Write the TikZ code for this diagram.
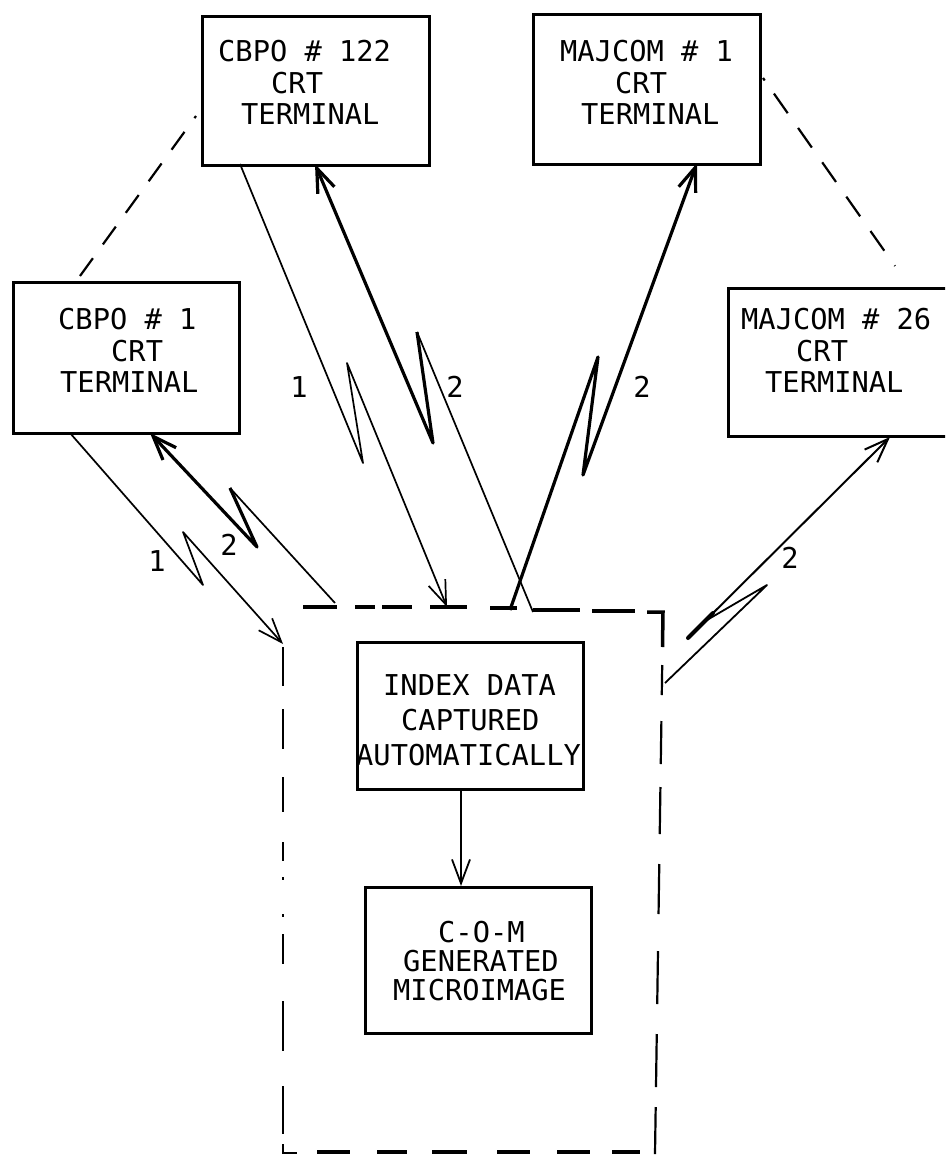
\documentclass[tikz,border=0pt]{standalone}
\usepackage{fontspec}
\newfontfamily\tfont{DejaVu Sans Mono}
\usetikzlibrary{arrows.meta}
\begin{document}
\begin{tikzpicture}[x=1pt,y=-1pt,
  term/.style={draw, line width=2.6pt, rectangle, anchor=north west, inner sep=0pt},
  txt/.style={anchor=north west, inner sep=0pt, align=left, font=\tfont\fontsize{28.7}{31.5}\selectfont},
  lab/.style={inner sep=0pt, font=\tfont\fontsize{28.7}{31.5}\selectfont},
  wthin/.style={line width=1.7pt, line join=round},
  wthick/.style={line width=3.2pt, line join=round},
  arrEnd/.style={-{Straight Barb[length=24pt,width=18pt]}},
  arrStart/.style={{Straight Barb[length=24pt,width=18pt]}-},
  dlink/.style={line width=2.2pt, dash pattern=on 22pt off 17pt},
  dtop/.style={line width=3.5pt},
  dside/.style={line width=2.2pt}
]
\fill[white] (0,0) rectangle (945,1156);
\useasboundingbox (0,0) rectangle (945,1156);
\clip (0,0) rectangle (945,1156);

% terminal boxes
\node[term, minimum width=227pt, minimum height=149pt] (c122) at (201,15) {};
\node[term, minimum width=227pt, minimum height=150pt] (m1) at (532,13) {};
\node[term, minimum width=226pt, minimum height=151pt] (c1) at (12,281) {};
\node[term, minimum width=227pt, minimum height=148pt] (m26) at (727,287) {};
\node[term, minimum width=226pt, minimum height=147pt] (idx) at (356,641) {};
\node[term, minimum width=226pt, minimum height=146pt] (com) at (364,886) {};

% texts
\node[txt] (t122) at (218,40) {CBPO~\#~122\\\hspace*{53pt}CRT\\\hspace*{23pt}TERMINAL};
\node[txt] (tm1) at (560,40) {MAJCOM~\#~1\\\hspace*{55pt}CRT\\\hspace*{21pt}TERMINAL};
\node[txt] (tc1) at (58,308) {CBPO~\#~1\\\hspace*{53pt}CRT\\\hspace*{2pt}TERMINAL};
\node[txt] (tm26) at (741,308) {MAJCOM~\#~26\\\hspace*{55pt}CRT\\\hspace*{24pt}TERMINAL};
\node[txt, font=\tfont\fontsize{28.7}{35}\selectfont] (tidx) at (356,674) {\hspace*{27pt}INDEX~DATA\\\hspace*{45pt}CAPTURED\\AUTOMATICALLY};
\node[txt, font=\tfont\fontsize{28.7}{29}\selectfont] (tcom) at (393,921) {\hspace*{45pt}C-O-M\\\hspace*{10pt}GENERATED\\MICROIMAGE};

% coordinates
\coordinate (A1s) at (70,433);  \coordinate (A1z1) at (203,585); \coordinate (A1z2) at (183,532); \coordinate (A1e) at (283,644);
\coordinate (B1s) at (150,433); \coordinate (B1z1) at (257,547); \coordinate (B1z2) at (230,488); \coordinate (B1e) at (335,603);
\coordinate (C1s) at (240,164); \coordinate (C1z1) at (363,463); \coordinate (C1z2) at (347,363); \coordinate (C1e) at (447,607);
\coordinate (D1s) at (315,164); \coordinate (D1z1) at (433,443); \coordinate (D1z2) at (417,332); \coordinate (D1e) at (533,612);
\coordinate (E1s) at (697,163); \coordinate (E1z1) at (583,475); \coordinate (E1z2) at (598,357); \coordinate (E1e) at (510,610);
\coordinate (F1s) at (890,437); \coordinate (F1z1) at (688,638); \coordinate (F1j) at (707,620); \coordinate (F1z2) at (767,585); \coordinate (F1e) at (665,683);
\coordinate (G1s) at (461,788); \coordinate (G1e) at (461,886);

% connectors
\draw[wthin, arrEnd] (A1s) -- (A1z1) -- (A1z2) -- (A1e);
\draw[wthick, arrStart] (B1s) -- (B1z1) -- (B1z2);
\draw[wthin] (B1z2) -- (B1e);
\draw[wthin, arrEnd] (C1s) -- (C1z1) -- (C1z2) -- (C1e);
\draw[wthick, arrStart] (D1s) -- (D1z1) -- (D1z2);
\draw[wthin] (D1z2) -- (D1e);
\draw[wthick, arrStart] (E1s) -- (E1z1) -- (E1z2) -- (E1e);
\draw[line width=2pt, arrStart] (F1s) -- (F1z1);
\draw[line width=4pt, line cap=round] (F1z1) -- (713,613);
\draw[line width=1.8pt, line join=round] (F1j) -- (F1z2) -- (F1e);
\draw[line width=1.8pt, arrEnd] (G1s) -- (G1e);

% labels
\node[lab] (l1a) at (157,561) {1};
\node[lab] (l2a) at (229,545) {2};
\node[lab] (l1b) at (299,387) {1};
\node[lab] (l2b) at (455,387) {2};
\node[lab] (l2c) at (642,387) {2};
\node[lab] (l2d) at (790,558) {2};

% dashed links between terminals
\draw[dlink] (80,276) -- (196,116);
\draw[line width=2.2pt, dash pattern=on 3pt off 16pt on 24pt off 18pt on 24pt off 18pt on 24pt off 18pt on 24pt off 18pt on 24pt off 18pt] (763,78) -- (895,266);

% dashed frame: top
\foreach \xa/\xb/\yy in {303/337/607, 355/375/607, 382/412/607, 430/467/607, 490/517/608, 533/580/610, 592/635/611}
  \draw[dtop] (\xa,\yy) -- (\xb,\yy);
\draw[dtop, line join=miter] (647,612) -- (663,612) -- (662.5,647);
% right
\foreach \ya/\yb in {665/695, 721/764, 787/834, 864/914, 951/1004, 1034/1087, 1107/1154}
  \draw[dside] ({663-8*(\ya-612)/542},\ya) -- ({663-8*(\yb-612)/542},\yb);
% left
\foreach \ya/\yb in {647/686, 709/749, 777/812, 842/861, 877/880, 914/917, 934/964, 1001/1051, 1086/1134}
  \draw[dside] (283,\ya) -- (283,\yb);
\draw[dside, line join=miter] (283,1144) -- (283,1153) -- (297,1153);
% bottom
\foreach \xa/\xb in {317/350, 377/407, 432/467, 497/530, 557/590, 612/640}
  \draw[dtop] (\xa,1152) -- (\xb,1152);
\end{tikzpicture}
\end{document}
